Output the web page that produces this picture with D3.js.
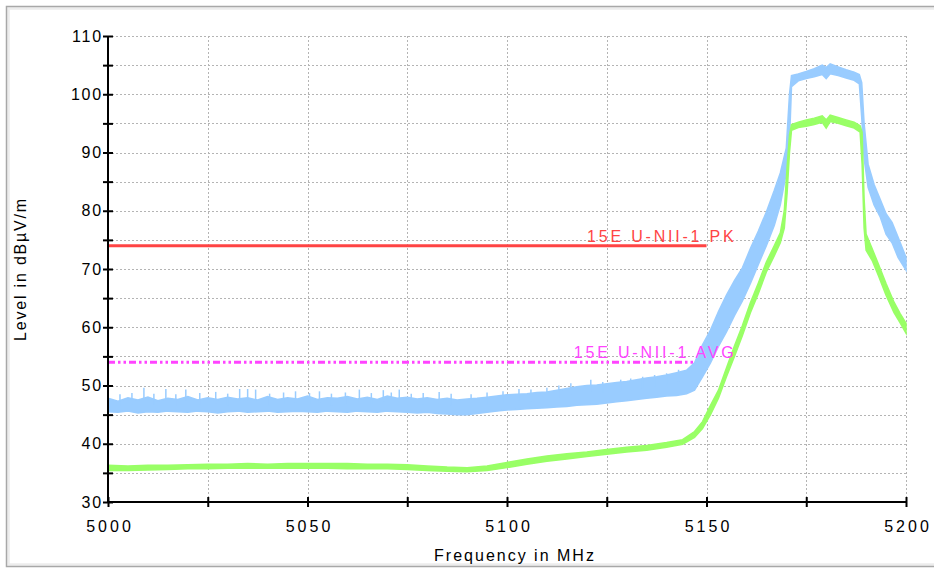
<!DOCTYPE html>
<html>
<head>
<meta charset="utf-8">
<script src="https://cdn.jsdelivr.net/npm/d3@7"></script>
<style>
  body { margin: 0; background: #fff; }
  svg text { font-family: "Liberation Sans", Arial, sans-serif; }
</style>
</head>
<body>
<div id="chart"></div>
<script>
// peak trace (blue): frequency, lower and upper edge of the noisy band
var pkFreq = [5000, 5002.5, 5005, 5007.5, 5010, 5012.5, 5015, 5017.5, 5020, 5022.5, 5025, 5027.5,
  5030, 5032.5, 5035, 5037.5, 5040, 5042.5, 5045, 5047.5, 5050, 5052.5, 5055, 5057.5, 5060, 5062.5,
  5065, 5067.5, 5070, 5072.5, 5075, 5077.5, 5080, 5082.5, 5085, 5087.5, 5090, 5092.5, 5095, 5097.5,
  5100, 5102.5, 5105, 5107.5, 5110, 5112.5, 5115, 5117.5, 5120, 5122.5, 5125, 5127.5, 5130, 5132.5,
  5135, 5137.5, 5140, 5142.5, 5145, 5147, 5149, 5151, 5153, 5155, 5157, 5159, 5161, 5163, 5165,
  5167, 5168.5, 5170, 5170.8, 5171.3, 5173, 5175, 5177, 5179, 5180, 5181, 5183, 5185, 5187, 5188.3,
  5188.9, 5189.5, 5190.5, 5192, 5193.5, 5195, 5196.5, 5198, 5200];
var pkLow = [45.5, 45.4, 45.6, 45.3, 45.5, 45.4, 45.6, 45.5, 45.4, 45.6, 45.5, 45.3,
  45.5, 45.6, 45.4, 45.5, 45.6, 45.4, 45.5, 45.6, 45.5, 45.4, 45.6, 45.5, 45.4, 45.6,
  45.5, 45.4, 45.6, 45.5, 45.4, 45.3, 45.4, 45.2, 45.1, 45.0, 45.0, 45.2, 45.4, 45.6,
  45.8, 45.9, 46.0, 46.1, 46.2, 46.3, 46.4, 46.6, 46.7, 46.8, 47.0, 47.2, 47.4, 47.6,
  47.8, 48.0, 48.2, 48.3, 48.6, 49.2, 51.5, 53.9, 56.7, 59.2, 62.0, 64.5, 67.5, 70.8, 74.0,
  77.5, 81.0, 86.5, 92.0, 101.3, 102.3, 102.7, 103.0, 103.4, 102.7, 103.5, 103.2, 102.8, 102.4, 101.8,
  96.0, 89.0, 84.0, 81.0, 79.0, 76.0, 74.5, 72.0, 69.8];
var pkHigh = [47.8, 47.3, 47.9, 47.5, 48.0, 47.4, 47.8, 47.6, 48.1, 47.5, 47.9, 47.6,
  48.0, 47.7, 47.9, 47.5, 48.1, 47.6, 47.9, 47.7, 48.2, 47.6, 47.9, 47.8, 48.1, 47.7,
  48.0, 47.6, 48.2, 47.8, 48.0, 47.7, 47.9, 47.6, 47.8, 47.5, 47.7, 47.8, 48.0, 48.2,
  48.4, 48.5, 48.6, 48.8, 48.9, 49.2, 49.5, 49.8, 50.0, 50.1, 50.3, 50.5, 50.7, 51.0,
  51.3, 51.5, 51.8, 52.2, 52.6, 53.9, 57.0, 59.5, 62.7, 65.5, 68.0, 70.2, 73.5, 76.5, 79.8,
  83.5, 86.5, 90.8, 100.0, 103.2, 103.5, 103.9, 104.4, 105.0, 104.6, 105.2, 104.7, 104.2, 103.8, 103.4,
  102.0, 95.0, 88.0, 84.5, 82.0, 79.5, 78.0, 75.5, 72.0];

// single noise spikes of the peak trace
var spikeFreq = [5003, 5006, 5009, 5011.5, 5014.5, 5017, 5019.5, 5023, 5027, 5030, 5033, 5035,
  5037, 5040.5, 5044, 5047, 5050.5, 5053, 5056, 5059.5, 5063, 5066, 5069, 5071, 5073, 5076,
  5079, 5083, 5086, 5091, 5095, 5099, 5103, 5106, 5110, 5113, 5116, 5121, 5124, 5128.5, 5131,
  5134, 5137, 5140, 5143];
var spikeLevel = [48.5, 48.7, 49.6, 48.6, 49.4, 48.5, 49.3, 48.7, 48.9, 48.6, 49.4, 49.4,
  49.3, 48.6, 48.8, 49.0, 48.7, 49.0, 48.6, 48.8, 49.3, 48.7, 49.2, 48.8, 49.3, 48.6,
  48.7, 48.9, 48.6, 48.5, 48.8, 49.0, 49.4, 49.3, 49.6, 50.0, 50.4, 51.0, 50.6, 51.0, 51.2,
  51.5, 51.8, 52.1, 52.7];

// average trace (green)
var avFreq = [5000, 5005, 5010, 5015, 5020, 5025, 5030, 5035, 5040, 5045, 5050, 5055, 5060,
  5065, 5070, 5075, 5080, 5085, 5090, 5095, 5100, 5105, 5110, 5115, 5120, 5125, 5130, 5135,
  5140, 5144, 5147, 5149, 5151, 5153, 5155, 5157, 5159, 5161, 5163, 5165, 5167, 5168.5, 5169.5,
  5170.2, 5170.8, 5171.3, 5173, 5175, 5177, 5179, 5180, 5181, 5183, 5185, 5187, 5188.5, 5189,
  5189.5, 5190, 5191.5, 5193, 5195, 5197, 5198.5, 5200];
var avLow = [35.4, 35.4, 35.5, 35.6, 35.7, 35.7, 35.8, 35.8, 35.8, 35.8, 35.8, 35.8, 35.7,
  35.7, 35.7, 35.6, 35.4, 35.3, 35.2, 35.4, 35.9, 36.5, 37.0, 37.4, 37.8, 38.2, 38.6, 38.9,
  39.4, 39.9, 41.1, 42.6, 45.0, 47.8, 51.5, 55.0, 58.6, 62.5, 65.8, 69.5, 72.3, 74.5, 77.0,
  83.0, 90.0, 93.8, 94.3, 94.5, 94.8, 95.2, 94.2, 95.3, 95.0, 94.6, 94.2, 93.5, 88.0,
  77.0, 73.2, 71.5, 69.0, 65.5, 62.5, 60.8, 59.0];
var avHigh = [36.3, 36.2, 36.3, 36.3, 36.4, 36.5, 36.5, 36.6, 36.5, 36.6, 36.6, 36.6, 36.6,
  36.5, 36.5, 36.4, 36.2, 36.0, 35.9, 36.2, 36.8, 37.4, 37.9, 38.3, 38.6, 39.0, 39.4, 39.7,
  40.2, 40.7, 42.1, 43.8, 46.6, 49.2, 53.0, 56.8, 60.3, 64.2, 67.6, 71.2, 74.0, 76.2, 80.0,
  87.5, 93.0, 94.8, 95.2, 95.6, 95.9, 96.3, 95.6, 96.4, 96.0, 95.6, 95.2, 94.6, 93.5,
  82.0, 76.0, 73.5, 71.0, 67.5, 64.3, 62.4, 60.7];

// limit lines
var limitNames = ["15E U-NII-1 PK", "15E U-NII-1 AVG"];
var limitLevels = [74, 54];
var limitStart = [5000, 5000];
var limitEnd = [5150, 5150];

var xTicks = [5000, 5025, 5050, 5075, 5100, 5125, 5150, 5175, 5200];
var yTicks = [30, 35, 40, 45, 50, 55, 60, 65, 70, 75, 80, 85, 90, 95, 100, 105, 110];

var margin = { top: 36, left: 108, right: 28, bottom: 66 },
  width = 934 - margin.left - margin.right,
  height = 568 - margin.top - margin.bottom;

var root = d3.select("#chart")
  .append("svg")
  .attr("width", 934)
  .attr("height", 568);

// frame round the whole picture
root.append("rect")
  .attr("x", 8.5).attr("y", 8.5)
  .attr("width", 940).attr("height", 556)
  .attr("fill", "none")
  .attr("stroke", "#ececec")
  .attr("stroke-width", 2.5);
root.append("rect")
  .attr("x", 6.5).attr("y", 6.5)
  .attr("width", 940).attr("height", 560)
  .attr("fill", "none")
  .attr("stroke", "#a8a8a8")
  .attr("stroke-width", 1.5);

var svg = root.append("g")
  .attr("transform", "translate(" + margin.left + "," + margin.top + ")");

var xPositionScale = d3.scaleLinear().domain([5000, 5200]).range([0, width]);
var yPositionScale = d3.scaleLinear().domain([30, 110]).range([height, 0]);

// dotted grid
svg.selectAll(".hgrid")
  .data(yTicks.filter(function(d) { return d > 30; }))
  .enter().append("line")
  .attr("class", "hgrid")
  .attr("x1", 0).attr("x2", width)
  .attr("y1", function(d) { return Math.round(yPositionScale(d)) + 0.5; })
  .attr("y2", function(d) { return Math.round(yPositionScale(d)) + 0.5; })
  .attr("stroke", "#b4b4b4")
  .attr("stroke-dasharray", "2,2");

svg.selectAll(".vgrid")
  .data(xTicks.filter(function(d) { return d > 5000; }))
  .enter().append("line")
  .attr("class", "vgrid")
  .attr("y1", 0).attr("y2", height)
  .attr("x1", function(d) { return Math.round(xPositionScale(d)) + 0.5; })
  .attr("x2", function(d) { return Math.round(xPositionScale(d)) + 0.5; })
  .attr("stroke", "#b4b4b4")
  .attr("stroke-dasharray", "2,2");

// limit lines
var limits = limitNames.map(function(n, i) {
  return { name: n, level: limitLevels[i], start: limitStart[i], end: limitEnd[i] };
});
var limitColors = ["#ff4444", "#ff44ff"];

svg.selectAll(".limit")
  .data(limits)
  .enter().append("line")
  .attr("class", "limit")
  .attr("x1", function(d) { return xPositionScale(d.start); })
  .attr("x2", function(d) { return xPositionScale(d.end); })
  .attr("y1", function(d) { return yPositionScale(d.level); })
  .attr("y2", function(d) { return yPositionScale(d.level); })
  .attr("stroke", function(d, i) { return limitColors[i]; })
  .attr("stroke-width", 3)
  .attr("stroke-dasharray", function(d, i) { return i == 1 ? "7,3,2.5,3,2.5,3" : null; });

// traces as bands between lower and upper edge
var band = d3.area()
  .x(function(d) { return xPositionScale(d.f); })
  .y0(function(d) { return yPositionScale(d.lo); })
  .y1(function(d) { return yPositionScale(d.hi); });

var pk = pkFreq.map(function(f, i) { return { f: f, lo: pkLow[i], hi: pkHigh[i] }; });
var av = avFreq.map(function(f, i) { return { f: f, lo: avLow[i], hi: avHigh[i] }; });

svg.append("path")
  .datum(pk)
  .attr("d", band)
  .attr("fill", "#99ccff")
  .attr("stroke", "#99ccff")
  .attr("stroke-width", 1.5);

svg.selectAll(".spike")
  .data(spikeFreq)
  .enter().append("line")
  .attr("class", "spike")
  .attr("x1", function(d) { return xPositionScale(d); })
  .attr("x2", function(d) { return xPositionScale(d); })
  .attr("y1", function(d, i) { return yPositionScale(spikeLevel[i] - 2); })
  .attr("y2", function(d, i) { return yPositionScale(spikeLevel[i]); })
  .attr("stroke", "#99ccff")
  .attr("stroke-width", 1.5);

svg.append("path")
  .datum(av)
  .attr("d", band)
  .attr("fill", "#99ff66")
  .attr("stroke", "#99ff66")
  .attr("stroke-width", 1.5);

// limit labels
svg.selectAll(".limitLabel")
  .data(limits)
  .enter().append("text")
  .attr("class", "limitLabel")
  .attr("x", function(d) { return xPositionScale(d.end) + 30; })
  .attr("y", function(d) { return yPositionScale(d.level) - 4; })
  .attr("text-anchor", "end")
  .attr("font-size", 16)
  .attr("letter-spacing", 2.8)
  .attr("fill", function(d, i) { return limitColors[i]; })
  .text(function(d) { return d.name; });

// axes
var xAxis = d3.axisBottom(xPositionScale)
  .tickValues(xTicks)
  .tickSize(5)
  .tickFormat(function(d) { return d % 50 == 0 ? d : ""; });

var xg = svg.append("g")
  .attr("class", "axis x-axis")
  .attr("transform", "translate(0," + height + ")")
  .call(xAxis);
xg.selectAll(".tick line").attr("y1", -5).attr("y2", 5).attr("stroke-width", 2);
xg.selectAll(".tick text")
  .attr("y", 19)
  .attr("dx", 1.5)
  .attr("dy", "0.71em")
  .attr("font-size", 16)
  .attr("letter-spacing", 3)
  .attr("fill", "#000");

var yAxis = d3.axisLeft(yPositionScale)
  .tickValues(yTicks)
  .tickSize(5)
  .tickFormat(function(d) { return d % 10 == 0 ? d : ""; });

var yg = svg.append("g")
  .attr("class", "axis y-axis")
  .call(yAxis);
yg.selectAll(".tick line").attr("x1", 5).attr("x2", -5).attr("stroke-width", 2);
yg.selectAll(".tick text")
  .attr("x", -5)
  .attr("font-size", 16)
  .attr("letter-spacing", 1.8)
  .attr("fill", "#000");
svg.selectAll(".axis path.domain").remove();
xg.append("line").attr("x1", 0).attr("x2", width).attr("stroke", "#000").attr("stroke-width", 2);
yg.append("line").attr("y1", 0).attr("y2", height).attr("stroke", "#000").attr("stroke-width", 2);

// axis titles
svg.append("text")
  .attr("x", width / 2 + 8)
  .attr("y", height + 59)
  .attr("text-anchor", "middle")
  .attr("font-size", 16)
  .attr("letter-spacing", 2)
  .attr("fill", "#000")
  .text("Frequency in MHz");

svg.append("text")
  .attr("transform", "translate(-82," + (height / 2) + ") rotate(-90)")
  .attr("text-anchor", "middle")
  .attr("font-size", 16)
  .attr("letter-spacing", 1.8)
  .attr("fill", "#000")
  .text("Level in dBµV/m");
</script>
</body>
</html>
